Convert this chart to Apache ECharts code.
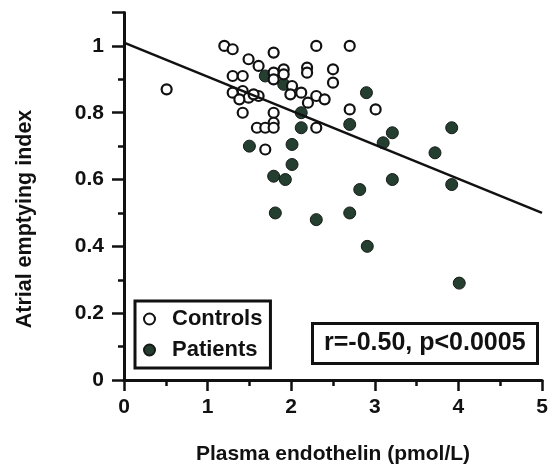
<!DOCTYPE html>
<html>
<head>
<meta charset="utf-8">
<script src="https://cdn.jsdelivr.net/npm/echarts@6/dist/echarts.min.js"></script>
<style>
  html, body { margin: 0; padding: 0; background: #fff; }
  #main { width: 552px; height: 470px; }
</style>
</head>
<body>
<div id="main"></div>
<script>
var controlX = [0.51, 1.20, 1.30, 1.49, 1.61, 1.79, 2.30, 2.70, 1.30, 1.42, 1.30, 1.42, 1.49, 1.61, 1.42,
  1.79, 1.91, 1.91, 1.79, 2.01, 1.99, 2.12, 2.19, 2.19, 2.50, 2.50, 2.30, 2.40, 2.20, 2.70, 3.01,
  1.79, 1.79, 1.59, 1.69, 1.79, 2.30, 1.69, 1.38, 1.55];
var controlY = [0.87, 1.00, 0.99, 0.96, 0.94, 0.98, 1.00, 1.00, 0.91, 0.91, 0.86, 0.865, 0.845, 0.85, 0.80,
  0.92, 0.93, 0.915, 0.90, 0.88, 0.855, 0.86, 0.935, 0.92, 0.93, 0.89, 0.85, 0.84, 0.83, 0.81, 0.81,
  0.80, 0.77, 0.755, 0.755, 0.755, 0.755, 0.69, 0.84, 0.855];

var patientX = [1.69, 1.91, 2.12, 2.12, 2.70, 1.50, 2.01, 2.01, 1.79, 1.93, 2.90, 3.21, 3.10, 3.92, 3.72,
  2.82, 3.21, 3.92, 1.81, 2.30, 2.70, 2.91, 4.01];
var patientY = [0.91, 0.885, 0.80, 0.755, 0.765, 0.70, 0.705, 0.645, 0.61, 0.60, 0.86, 0.74, 0.71, 0.755, 0.68,
  0.57, 0.60, 0.585, 0.50, 0.48, 0.50, 0.40, 0.29];

var fitX = [0, 5];
var fitY = [1.01, 0.50];

var statText = 'r=-0.50, p<0.0005';

function pairs(xs, ys) {
  return xs.map(function(x, i) { return [x, ys[i]]; });
}

var font = 'Liberation Sans, Arial, Helvetica, sans-serif';

var chart = echarts.init(document.getElementById('main'));
var option = {
  animation: false,
  grid: { left: 124, right: 10, top: 12.5, bottom: 89 },
  xAxis: {
    type: 'value', min: 0, max: 5, interval: 1,
    name: 'Plasma endothelin (pmol/L)',
    nameLocation: 'middle', nameGap: 64,
    nameTextStyle: { fontFamily: font, fontWeight: 'bold', fontSize: 21, color: '#111' },
    axisLine: { lineStyle: { color: '#111', width: 3 } },
    axisTick: { length: 11, lineStyle: { color: '#111', width: 2.5 } },
    minorTick: { show: true, splitNumber: 2, length: 6, lineStyle: { color: '#111', width: 2.5 } },
    axisLabel: { fontFamily: font, fontWeight: 'bold', fontSize: 21, color: '#111', margin: 17 },
    splitLine: { show: false }
  },
  yAxis: {
    type: 'value', min: 0, max: 1.1, interval: 0.2,
    axisLine: { show: true, lineStyle: { color: '#111', width: 3 } },
    axisTick: { show: true, length: 12, lineStyle: { color: '#111', width: 2.5 } },
    minorTick: { show: true, splitNumber: 2, length: 6, lineStyle: { color: '#111', width: 2.5 } },
    axisLabel: {
      fontFamily: font, fontWeight: 'bold', fontSize: 21, color: '#111', margin: 20,
      formatter: function(v) { return v > 1.05 ? '' : String(+v.toFixed(1)); }
    },
    splitLine: { show: false }
  },
  legend: {
    data: ['Controls', 'Patients'],
    orient: 'vertical',
    left: 135, top: 301,
    padding: [7, 8, 7, 8],
    itemGap: 9,
    itemWidth: 11, itemHeight: 11,
    borderColor: '#111', borderWidth: 3,
    backgroundColor: '#fff',
    textStyle: { fontFamily: font, fontWeight: 'bold', fontSize: 22, color: '#111', padding: [0, 0, 0, 12] }
  },
  title: {
    text: statText,
    left: 312, top: 323,
    padding: [8, 12, 8, 12],
    borderColor: '#111', borderWidth: 3,
    textStyle: { fontFamily: font, fontWeight: 'bold', fontSize: 25, color: '#111' }
  },
  graphic: [{
    type: 'text',
    x: 25, y: 219,
    rotation: Math.PI / 2,
    style: {
      text: 'Atrial emptying index',
      font: 'bold 21.5px ' + font,
      fill: '#111',
      align: 'center', verticalAlign: 'middle'
    }
  }],
  series: [
    {
      name: 'Patients', type: 'scatter',
      data: pairs(patientX, patientY),
      symbolSize: 12,
      itemStyle: { color: '#243f30', borderColor: '#141a16', borderWidth: 1, opacity: 1 }
    },
    {
      name: 'Controls', type: 'scatter',
      data: pairs(controlX, controlY),
      symbolSize: 10,
      itemStyle: { color: '#fff', borderColor: '#111', borderWidth: 2.2, opacity: 1 }
    },
    {
      name: 'fit', type: 'line',
      data: pairs(fitX, fitY),
      symbol: 'none', silent: true,
      lineStyle: { color: '#111', width: 2.5 }
    }
  ]
};
chart.setOption(option);
</script>
</body>
</html>
